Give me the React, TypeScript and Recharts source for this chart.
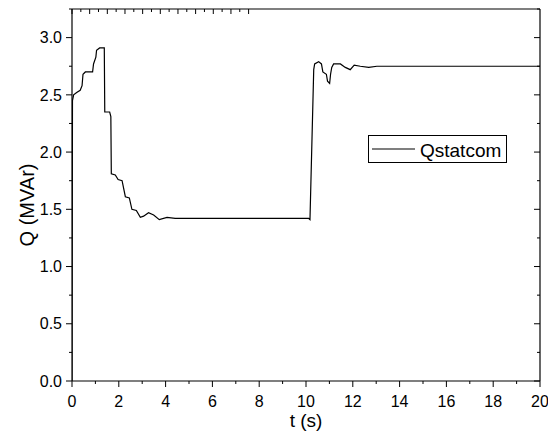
import { LineChart, Line, XAxis, YAxis, Legend } from "recharts";

// time (s) and reactive power (MVAr)
const times = [
  0, 0.02, 0.07, 0.2, 0.35, 0.43, 0.47, 0.57, 0.88, 0.92, 1.02, 1.05, 1.18, 1.38,
  1.4, 1.61, 1.66, 1.68, 1.85, 1.97, 2.14, 2.28, 2.45, 2.56, 2.75, 2.92, 3.06,
  3.27, 3.49, 3.73, 4.06, 4.41, 5.2, 10.12, 10.17, 10.33, 10.37, 10.54, 10.66,
  10.72, 10.87, 10.92, 11.01, 11.05, 11.1, 11.18, 11.47, 11.68, 11.89, 12.06,
  12.32, 12.68, 13.03, 20,
];
const qValues = [
  0, 2.45, 2.5, 2.52, 2.54, 2.58, 2.68, 2.7, 2.7, 2.77, 2.83, 2.89, 2.91, 2.91,
  2.35, 2.35, 2.31, 1.81, 1.8, 1.76, 1.75, 1.61, 1.6, 1.5, 1.49, 1.43, 1.44,
  1.47, 1.45, 1.41, 1.43, 1.42, 1.42, 1.42, 1.41, 2.72, 2.77, 2.79, 2.77,
  2.7, 2.68, 2.62, 2.6, 2.68, 2.74, 2.77, 2.77, 2.74, 2.72, 2.76,
  2.75, 2.74, 2.75, 2.75,
];
const xTicks = [0, 1, 2, 3, 4, 5, 6, 7, 8, 9, 10, 11, 12, 13, 14, 15, 16, 17, 18, 19, 20];
const yTicks = [0, 0.25, 0.5, 0.75, 1, 1.25, 1.5, 1.75, 2, 2.25, 2.5, 2.75, 3, 3.25];

const data = times.map((t, i) => ({ t, q: qValues[i] }));

const FONT = '"Liberation Sans", Arial, sans-serif';
const isMajorX = (v: number) => v % 2 === 0;
const isMajorY = (v: number) => Math.abs(v * 2 - Math.round(v * 2)) < 1e-6;

function BottomTick({ x, y, payload }: any) {
  const major = isMajorX(payload.value);
  return (
    <g>
      <line x1={x} x2={x} y1={y} y2={y + (major ? 6 : 3)} stroke="#000" />
      {major && (
        <text x={x} y={y + 26} textAnchor="middle" fontSize={16} fill="#000">
          {payload.value}
        </text>
      )}
    </g>
  );
}

function LeftTick({ x, y, payload }: any) {
  const major = isMajorY(payload.value);
  return (
    <g>
      <line x1={x} x2={x - (major ? 6 : 3)} y1={y} y2={y} stroke="#000" />
      {major && payload.value < 3.2 && (
        <text x={x - 10} y={y + 5.7} textAnchor="end" fontSize={16} fill="#000">
          {payload.value.toFixed(1)}
        </text>
      )}
    </g>
  );
}

function TopTick({ x, y, payload }: any) {
  const major = isMajorX(payload.value);
  return <line x1={x} x2={x} y1={y} y2={y + (major ? 5 : 3)} stroke="#000" />;
}

function RightTick({ x, y, payload }: any) {
  const major = isMajorY(payload.value);
  return <line x1={x} x2={x - (major ? 6 : 3)} y1={y} y2={y} stroke="#000" />;
}

function LegendBox() {
  return (
    <svg width={139} height={28} style={{ display: "block" }}>
      <rect x={0.5} y={0.5} width={138} height={27} fill="#fff" stroke="#000" />
      <line x1={4} x2={47} y1={14} y2={14} stroke="#000" strokeWidth={1.2} />
      <text x={52} y={22} fontSize={19} fill="#000" fontFamily={FONT}>
        Qstatcom
      </text>
    </svg>
  );
}

export default function App() {
  return (
    <LineChart
      width={548}
      height={425}
      data={data}
      margin={{ top: 1, right: 16, bottom: 0, left: 0 }}
      style={{ fontFamily: FONT }}
    >
      <XAxis
        dataKey="t"
        type="number"
        domain={[0, 20]}
        ticks={xTicks}
        interval={0}
        allowDataOverflow
        height={52}
        tickSize={0}
        tickMargin={0}
        tickLine={false}
        axisLine={{ stroke: "#000", strokeWidth: 1.2 }}
        tick={<BottomTick />}
        label={{ value: "t (s)", position: "insideBottom", offset: 6, fontSize: 19, fill: "#000" }}
      />
      <XAxis
        xAxisId="top"
        orientation="top"
        mirror
        type="number"
        domain={[0, 20]}
        ticks={xTicks}
        interval={0}
        allowDataOverflow
        tickSize={0}
        tickMargin={0}
        tickLine={false}
        axisLine={{ stroke: "#000", strokeWidth: 1.2 }}
        tick={<TopTick />}
      />
      <YAxis
        type="number"
        domain={[0, 3.25]}
        ticks={yTicks}
        interval={0}
        allowDataOverflow
        width={64}
        tickSize={0}
        tickMargin={0}
        tickLine={false}
        axisLine={{ stroke: "#000", strokeWidth: 1.2 }}
        tick={<LeftTick />}
        label={{
          value: "Q (MVAr)",
          angle: -90,
          position: "insideLeft",
          offset: 19,
          dy: 10,
          fontSize: 20,
          fill: "#000",
          style: { textAnchor: "middle" },
        }}
      />
      <YAxis
        yAxisId="right"
        orientation="right"
        mirror
        type="number"
        domain={[0, 3.25]}
        ticks={yTicks}
        interval={0}
        allowDataOverflow
        tickSize={0}
        tickMargin={0}
        tickLine={false}
        axisLine={{ stroke: "#000", strokeWidth: 1.2 }}
        tick={<RightTick />}
      />
      <Legend
        layout="vertical"
        align="center"
        verticalAlign="middle"
        content={<LegendBox />}
        wrapperStyle={{ position: "absolute", left: 360, top: 127, width: "auto", height: "auto" }}
      />
      <Line
        type="linear"
        dataKey="q"
        name="Qstatcom"
        stroke="#000"
        strokeWidth={1.2}
        dot={false}
        isAnimationActive={false}
      />
    </LineChart>
  );
}
